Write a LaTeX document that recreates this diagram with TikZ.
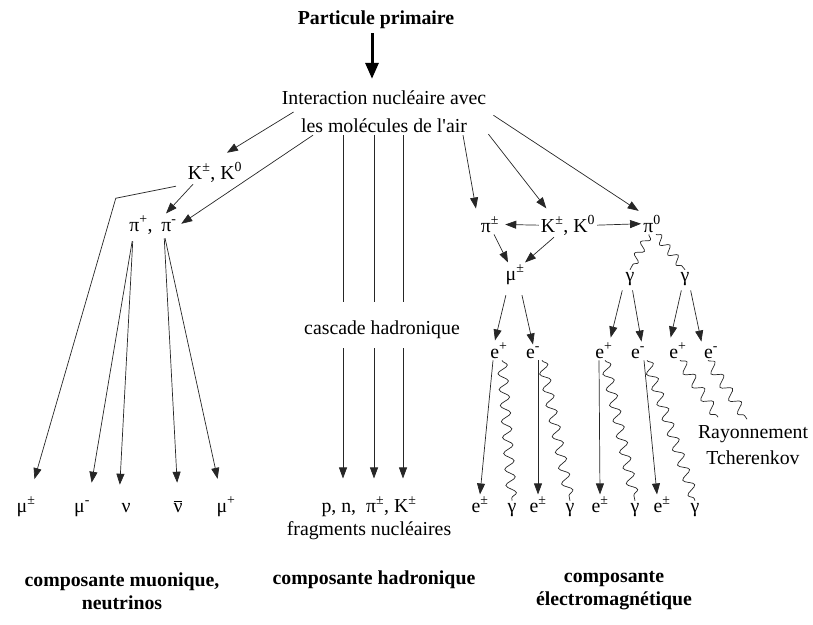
\documentclass[tikz,border=0pt]{standalone}
\usepackage{fontspec}
\setmainfont{Liberation Serif}
\usetikzlibrary{arrows.meta, decorations.pathmorphing}

\newcommand{\sps}[1]{\textsuperscript{#1}}

\begin{document}
\begin{tikzpicture}[x=1pt,y=1pt,font=\fontsize{19.8}{24}\selectfont,
  lbl/.style={inner sep=2pt,anchor=base},
  arr/.style={draw=black!85,line width=0.7pt,-{Triangle[length=11pt,width=8pt]}},
  wave/.style={draw=black!85,line width=0.7pt,decorate,decoration={snake,amplitude=5pt,segment length=16pt}},
  comp/.style={font=\fontsize{19.8}{23}\selectfont\bfseries,align=center}]
\useasboundingbox (0,0) rectangle (813,-624);
\node [lbl,font=\fontsize{19.8}{24}\selectfont\bfseries] (prim) at (376,-24) {Particule primaire};
\node [inner sep=2pt,align=center,font=\fontsize{19.8}{28}\selectfont] (inter) at (384,-112) {Interaction nucléaire avec\\les molécules de l\textquotesingle air};
\draw [line width=3pt,-{Triangle[length=16pt,width=13pt]},shorten <=3pt,shorten >=10pt] ([xshift=-4pt]prim.south) -- ([xshift=-4pt]prim.south |- inter.north);
\node [lbl] (kk) at (215,-179) {K\sps{±}, K\sps{0}};
\node [lbl] (pip) at (141,-231) {π\sps{+},};
\node [lbl] (pim) at (169,-231) {π\sps{-}};
\node [lbl] (mupm) at (26,-512) {μ\sps{±}};
\node [lbl] (mum) at (82,-512) {μ\sps{-}};
\node [lbl] (nu) at (126,-512) {ν};
\node [lbl] (nub) at (178,-512) {$\overline{\hbox{ν}}$};
\node [lbl] (mup) at (226,-512) {μ\sps{+}};
\draw [arr,shorten >=14pt] ([xshift=14pt]inter.west) -- (kk.north);
\draw [arr,shorten >=3pt] ([xshift=-71pt]inter.south) -- (pim.east);
\draw [arr] ([xshift=-22pt]kk.south) -- ([xshift=25pt]pip.north);
\draw [arr,shorten <=10pt,shorten >=16pt] (kk.south west) -- ++(-70,-14) -- ([xshift=4pt]mupm.north);
\draw [arr,shorten <=5pt,shorten >=16pt] ([xshift=-8pt]pip.south) -- ([xshift=7pt]mum.north);
\draw [arr,shorten <=5pt,shorten >=16pt] ([xshift=-8pt]pip.south) -- ([xshift=-7pt]nu.north);
\draw [arr,shorten <=5pt,shorten >=16pt] ([xshift=-5pt]pim.south) -- (nub.north);
\draw [arr,shorten <=5pt,shorten >=16pt] ([xshift=-5pt]pim.south) -- ([xshift=-5pt]mup.north);
\node [lbl] (casc) at (382,-334) {cascade hadronique};
\node [inner sep=2pt,align=center,font=\fontsize{19.8}{23}\selectfont] (pn) at (369,-518) {p, n,\ \ π\sps{±}, K\sps{±}\\fragments nucléaires};
\foreach \dx in {-39,-8,21} {
  \draw [draw=black!85,line width=0.7pt,shorten >=16pt] ([xshift=\dx pt]casc.north |- inter.south) -- ([xshift=\dx pt]casc.north);
  \draw [arr,shorten <=8pt,shorten >=16pt] ([xshift=\dx pt]casc.south) -- ([xshift=\dx pt]casc.south |- pn.north);
}
\node [lbl] (pipm) at (490,-232) {π\sps{±}};
\node [lbl] (kk2) at (568,-232) {K\sps{±}, K\sps{0}};
\node [lbl] (pi0) at (652,-232) {π\sps{0}};
\node [lbl] (mupm2) at (515,-280) {μ\sps{±}};
\node [lbl] (ga) at (630,-281) {γ};
\node [lbl] (gb) at (685,-281) {γ};
\foreach \x/\s [count=\i] in {499/+,533/-,604/+,638/-,678/+,711/-}
  \node [lbl] (e\i) at (\x,-358) {e\sps{\s}};
\foreach \x/\t [count=\i] in {480/e\sps{±},512/γ,538/e\sps{±},570/γ,600/e\sps{±},635/γ,662/e\sps{±},695/γ}
  \node [lbl] (b\i) at (\x,-512) {\t};
\node [inner sep=2pt,align=center,font=\fontsize{19.8}{26}\selectfont] (ray) at (753,-445) {Rayonnement\\Tcherenkov};
\draw [arr,shorten >=6pt] ([xshift=79pt]inter.south) -- ([xshift=-13pt]pipm.north);
\draw [arr,shorten >=6pt] (inter.-12) -- ([xshift=-18pt]kk2.north);
\draw [arr,shorten <=6pt,shorten >=4pt] (inter.east) -- ([xshift=-10pt]pi0.north);
\draw [arr,shorten >=4pt] (kk2.west) -- (pipm.east);
\draw [arr] (kk2.east) -- (pi0.west);
\draw [arr] ([xshift=4pt]pipm.south) -- ([xshift=-7pt]mupm2.north);
\draw [arr] ([xshift=-14pt]kk2.south) -- ([xshift=10pt]mupm2.north);
\draw [wave,decoration={segment length=13pt,amplitude=4pt}] ([xshift=-3pt]pi0.south) -- (ga.north);
\draw [wave,decoration={segment length=13pt,amplitude=4pt}] ([xshift=4pt]pi0.south) -- (gb.north);
\draw [arr,shorten <=9pt] ([xshift=-7pt]mupm2.south) -- ([xshift=-4pt]e1.north);
\draw [arr,shorten <=9pt] ([xshift=5pt]mupm2.south) -- (e2.north);
\draw [arr,shorten <=3pt,shorten >=3pt] ([xshift=-7pt]ga.south) -- ([xshift=6pt]e3.north);
\draw [arr,shorten <=3pt,shorten >=3pt] ([xshift=2pt]ga.south) -- ([xshift=4pt]e4.north);
\draw [arr,shorten <=3pt,shorten >=3pt] ([xshift=-3pt]gb.south) -- ([xshift=-8pt]e5.north);
\draw [arr,shorten <=3pt,shorten >=3pt] ([xshift=5pt]gb.south) -- ([xshift=-9pt]e6.north);
\draw [arr] ([xshift=-6pt]e1.south) -- (b1.north);
\draw [wave] ([xshift=3pt]e1.south) -- (b2.north);
\draw [arr] ([xshift=5pt]e2.south) -- (b3.north);
\draw [wave] ([xshift=9pt]e2.south) -- (b4.north);
\draw [arr] ([xshift=-5pt]e3.south) -- (b5.north);
\draw [wave] ([xshift=1pt]e3.south) -- (b6.north);
\draw [arr] ([xshift=6pt]e4.south) -- ([xshift=-5pt]b7.north);
\draw [wave] ([xshift=9pt]e4.south) -- (b8.north);
\draw [wave] ([xshift=2pt]e5.south) -- ([xshift=-35pt,yshift=6pt]ray.north);
\draw [wave] ([xshift=-3pt]e6.south) -- ([xshift=-6pt,yshift=4pt]ray.north);
\node [comp] (cmu) at (122,-591) {composante muonique,\\neutrinos};
\node [comp] (chad) at (374,-580) {composante hadronique};
\node [comp] (cem) at (614,-591) {composante\\électromagnétique};
\end{tikzpicture}
\end{document}
